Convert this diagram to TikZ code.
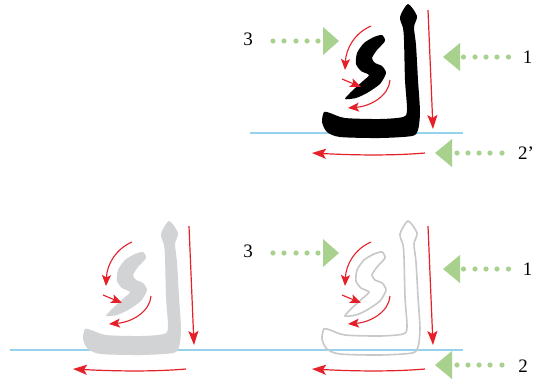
\documentclass[tikz,border=0pt]{standalone}
\usepackage{fontspec}
\setmainfont{Liberation Serif}
\usetikzlibrary{arrows.meta}
\definecolor{redarr}{RGB}{229,32,41}
\definecolor{greenarr}{RGB}{169,209,142}
\definecolor{baseblue}{RGB}{150,210,236}
\definecolor{glyphgray}{RGB}{210,211,213}
\definecolor{outlinegray}{RGB}{200,200,200}
\tikzset{
  redarrow/.style={draw=redarr, line width=1.2pt, -{Stealth[length=14pt,width=10pt,inset=3pt]}},
  smallred/.style={draw=redarr, line width=1.1pt, -{Stealth[length=11pt,width=9pt,inset=2.5pt]}},
  greenfill/.style={fill=greenarr, draw=none},
  guideline/.style={draw=baseblue, line width=1.3pt},
  numlabel/.style={font=\fontsize{19}{19}\selectfont, inner sep=0pt},
  kaf/.pic={
    \path[pic actions] plot[smooth cycle,tension=0.45] coordinates {
      (408,4) (417,16) (414,27) (416,45) (418,80) (420,112) (418,130) (412,136)
      (380,138) (340,137) (327,132) (322,122) (324,112) (330,113) (345,118)
      (380,119) (403,117) (407,110) (405,80) (404,40) (403,28) (400,17)};
    \path[pic actions] plot[smooth cycle,tension=0.4] coordinates {
      (382,35) (385,41) (377,50) (372,58) (375,63) (382,66) (386,73) (380,84)
      (367,93) (356,98) (345,99) (352,91) (363,81) (369,75) (361,71) (356,64)
      (357,53) (364,43) (374,37)};
  },
  strokes/.pic={
    \draw[redarrow] (428,10) -- (433,129);
    \draw[redarrow] (425,153) .. controls (390,156) and (350,155) .. (312,153);
    \draw[smallred] (371,26) .. controls (355,33) and (346,48) .. (345,70);
    \draw[smallred] (342,79) -- (361,87);
    \draw[smallred] (390,80) .. controls (389,95) and (372,106) .. (348,108);
  },
  pointers/.pic={
    \foreach \x in {273,284,296,307,318} \fill[greenfill] (\x,41) circle (2.6);
    \fill[greenfill] (323,27) -- (323,55) -- (339,41) -- cycle;
    \node[numlabel] (-l3) at (248,39) {3};
    \fill[greenfill] (460,43) -- (460,71) -- (443,57) -- cycle;
    \foreach \x in {463.5,475,486,497,508.5} \fill[greenfill] (\x,57) circle (2.6);
    \node[numlabel] (-l1) at (527.5,57) {1};
    \fill[greenfill] (452,139) -- (452,167) -- (435,153) -- cycle;
    \foreach \x in {457,468,479,490,502} \fill[greenfill] (\x,153) circle (2.6);
  },
}
\begin{document}
\begin{tikzpicture}[x=1pt,y=-1pt]
\useasboundingbox (0,0) rectangle (533,383);
\fill[white] (0,0) rectangle (533,383);
\coordinate (b1s) at (250,133); \coordinate (b1e) at (463,133);
\coordinate (b2s) at (10,350);  \coordinate (b2e) at (463,350);
\draw[guideline] (b1s) -- (b1e);
\draw[guideline] (b2s) -- (b2e);
\pic[fill=black] (k1) at (0,0) {kaf};
\pic[fill=glyphgray] (k2) at (-239,217) {kaf};
\pic[draw=outlinegray, line width=1.6pt] (k3) at (0,217) {kaf};
\pic (s1) at (0,0) {strokes};
\pic (s2) at (-239,216) {strokes};
\pic (s3) at (0,216) {strokes};
\pic (p1) at (0,0) {pointers};
\pic (p2) at (0,212) {pointers};
\node[numlabel, anchor=west] (l2a) at (518,153) {2'};
\node[numlabel] (l2b) at (523,366) {2};
\end{tikzpicture}
\end{document}
